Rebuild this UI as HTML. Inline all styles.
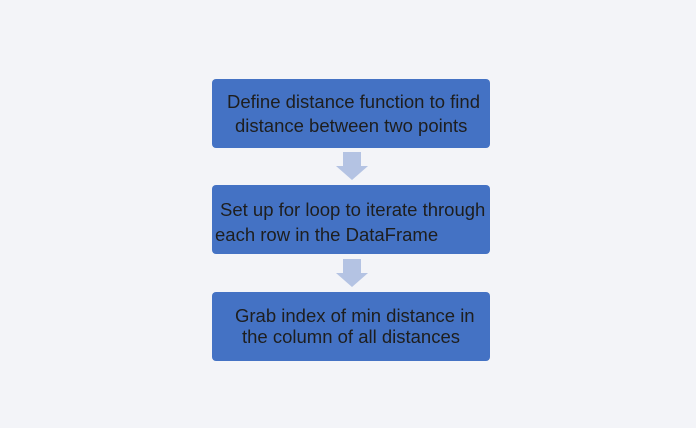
<!DOCTYPE html>
<html><head><meta charset="utf-8"><style>
body{margin:0;width:696px;height:428px;background:#f3f4f8;position:relative;overflow:hidden;font-family:"Liberation Sans",sans-serif}
.box{position:absolute;left:212px;width:278px;height:69px;background:#4472c4;border-radius:4px;color:#1e1e1e;font-size:18.5px;line-height:23px;box-sizing:border-box}
.box span{position:absolute;white-space:nowrap}
.arrow{position:absolute;left:336px;width:32px;height:28px}
</style></head><body>
<div class="box" style="top:79px"><span style="left:15px;top:11px">Define distance function to find</span><span style="left:23px;top:35px">distance between two points</span></div>
<svg class="arrow" style="top:152px" viewBox="0 0 32 28"><polygon points="7,0 25,0 25,14 32,14 16,28 0,14 7,14" fill="#b4c3e3"/></svg>
<div class="box" style="top:185px"><span style="left:8px;top:13px">Set up for loop to iterate through</span><span style="left:3px;top:38px">each row in the DataFrame</span></div>
<svg class="arrow" style="top:259px" viewBox="0 0 32 28"><polygon points="7,0 25,0 25,14 32,14 16,28 0,14 7,14" fill="#b4c3e3"/></svg>
<div class="box" style="top:292px"><span style="left:23px;top:12px">Grab index of min distance in</span><span style="left:30px;top:33px">the column of all distances</span></div>
</body></html>
